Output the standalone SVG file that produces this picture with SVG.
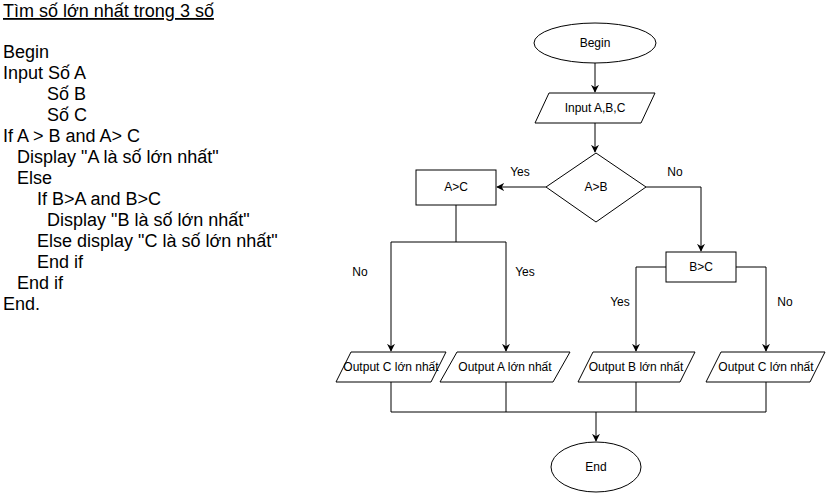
<svg xmlns="http://www.w3.org/2000/svg" width="826" height="493" viewBox="0 0 826 493">
<defs>
<marker id="arr" viewBox="0 0 10 10" refX="9" refY="5" markerWidth="8" markerHeight="8" markerUnits="userSpaceOnUse" orient="auto">
<path d="M0,0 L10,5 L0,10 L3,5 Z" fill="#000"/>
</marker>
</defs>
<style>
.shape{fill:#fff;stroke:#000;stroke-width:1}
.t{font-family:"Liberation Sans",Arial,sans-serif;font-size:12px;fill:#000;text-anchor:middle;dominant-baseline:central}
.lbl{font-family:"Liberation Sans",Arial,sans-serif;font-size:12px;fill:#000;text-anchor:middle;dominant-baseline:central}
.code{font-family:"Liberation Sans",Arial,sans-serif;font-size:18px;fill:#000}
.edge{fill:none;stroke:#000;stroke-width:1}
</style>
<rect width="826" height="493" fill="#fff"/>
<g id="pseudocode">
<text class="code" x="3" y="17" text-decoration="underline">Tìm số lớn nhất trong 3 số</text>
<text class="code" x="3" y="58">Begin</text>
<text class="code" x="3" y="79">Input Số A</text>
<text class="code" x="47" y="100">Số B</text>
<text class="code" x="47" y="121">Số C</text>
<text class="code" x="3" y="142">If A &gt; B and A&gt; C</text>
<text class="code" x="17" y="163">Display "A là số lớn nhất"</text>
<text class="code" x="17" y="184">Else</text>
<text class="code" x="37" y="205">If B&gt;A and B&gt;C</text>
<text class="code" x="47" y="226">Display "B là số lớn nhất"</text>
<text class="code" x="37" y="247">Else display "C là số lớn nhất"</text>
<text class="code" x="37" y="268">End if</text>
<text class="code" x="17" y="289">End if</text>
<text class="code" x="3" y="310">End.</text>
</g>
<g id="connectors">
<path class="edge" d="M595,63 L595,92" marker-end="url(#arr)"/>
<path class="edge" d="M595,123 L595,152" marker-end="url(#arr)"/>
<path class="edge" d="M546,187 L497,187" marker-end="url(#arr)"/>
<path class="edge" d="M646,187 L701,187 L701,251" marker-end="url(#arr)"/>
<path class="edge" d="M456,205 L456,242 L391,242 L391,351" marker-end="url(#arr)"/>
<path class="edge" d="M456,242 L506,242 L506,351" marker-end="url(#arr)"/>
<path class="edge" d="M666,267 L636,267 L636,351" marker-end="url(#arr)"/>
<path class="edge" d="M736,267 L766,267 L766,351" marker-end="url(#arr)"/>
<path class="edge" d="M391,382 L391,412 L766,412 L766,382"/>
<path class="edge" d="M506,382 L506,412"/>
<path class="edge" d="M636,382 L636,412"/>
<path class="edge" d="M596,412 L596,441" marker-end="url(#arr)"/>
<text class="lbl" x="520" y="172">Yes</text>
<text class="lbl" x="675" y="172">No</text>
<text class="lbl" x="360" y="272">No</text>
<text class="lbl" x="525" y="272">Yes</text>
<text class="lbl" x="620" y="302">Yes</text>
<text class="lbl" x="785" y="302">No</text>
</g>
<g id="begin">
<ellipse class="shape" cx="595" cy="43" rx="61" ry="20"/>
<text class="t" x="595" y="43">Begin</text>
</g>
<g id="input">
<polygon class="shape" points="549,93 655,93 641,123 535,123"/>
<text class="t" x="595" y="108">Input A,B,C</text>
</g>
<g id="aGtB">
<polygon class="shape" points="596,153 646,187 596,222 546,187"/>
<text class="t" x="596" y="187">A&gt;B</text>
</g>
<g id="aGtC">
<rect class="shape" x="416" y="170" width="80" height="35"/>
<text class="t" x="456" y="187">A&gt;C</text>
</g>
<g id="bGtC">
<rect class="shape" x="666" y="252" width="70" height="30"/>
<text class="t" x="701" y="267">B&gt;C</text>
</g>
<g id="outC1">
<polygon class="shape" points="351,352 446,352 431,382 336,382"/>
<text class="t" x="391" y="367">Output C lớn nhất</text>
</g>
<g id="outA">
<polygon class="shape" points="457,352 570,352 553,382 440,382"/>
<text class="t" x="505" y="367">Output A lớn nhất</text>
</g>
<g id="outB">
<polygon class="shape" points="593,352 695,352 680,382 578,382"/>
<text class="t" x="636" y="367">Output B lớn nhất</text>
</g>
<g id="outC2">
<polygon class="shape" points="721,352 825,352 810,382 706,382"/>
<text class="t" x="766" y="367">Output C lớn nhất</text>
</g>
<g id="end">
<ellipse class="shape" cx="596" cy="467" rx="45" ry="25"/>
<text class="t" x="596" y="467">End</text>
</g>
</svg>
